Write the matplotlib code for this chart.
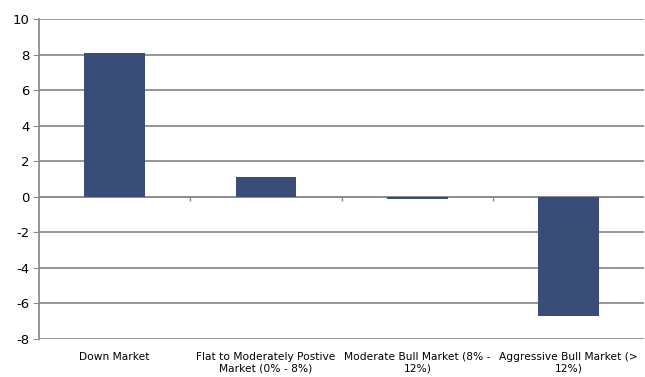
import numpy as np
import matplotlib.pyplot as plt
from matplotlib import font_manager

plt.rcParams["axes.unicode_minus"] = False

# Data
categories = ["Down Market",
              "Flat to Moderately Postive\nMarket (0% - 8%)",
              "Moderate Bull Market (8% -\n12%)",
              "Aggressive Bull Market (>\n12%)"]
values = [8.1, 1.1, -0.15, -6.7]
yticks = [-8, -6, -4, -2, 0, 2, 4, 6, 8, 10]

bar_color = "#3a4d76"
grid_color = "#8c8c8c"

names = {f.name for f in font_manager.fontManager.ttflist}
label_font = "Liberation Sans Narrow" if "Liberation Sans Narrow" in names else "DejaVu Sans"
label_size = 8.8 if label_font == "Liberation Sans Narrow" else 7.7

fig = plt.figure(figsize=(6.45, 3.77), dpi=100)
ax = fig.add_axes([39/645, 38/377, 1 - 39/645 - 0.001, (339 - 19)/377])

x = np.arange(len(categories))
ax.bar(x, values, width=0.4, color=bar_color, zorder=3)

ax.set_ylim(-8, 10)
ax.set_xlim(-0.5, len(categories) - 0.5)
ax.set_yticks(yticks)
ax.yaxis.grid(True, color=grid_color, linewidth=1.3, zorder=0)
ax.set_axisbelow(True)

# zero line with small ticks at category boundaries
ax.axhline(0, color=grid_color, linewidth=1.3, zorder=2)
bounds = np.arange(len(categories) + 1) - 0.5
ax.vlines(bounds[1:-1], -0.25, 0, color=grid_color, linewidth=1.0, zorder=2)

for s in ["top", "right", "bottom"]:
    ax.spines[s].set_visible(False)
ax.spines["left"].set_color(grid_color)
ax.spines["left"].set_linewidth(1.3)

ax.set_xticks(x)
ax.set_xticklabels(categories, fontsize=label_size, family=label_font, linespacing=1.3)
ax.tick_params(axis="x", length=0, pad=9)
ax.tick_params(axis="y", length=4, color=grid_color, labelsize=9.5, pad=3)

fig.savefig("out.png", dpi=100)
